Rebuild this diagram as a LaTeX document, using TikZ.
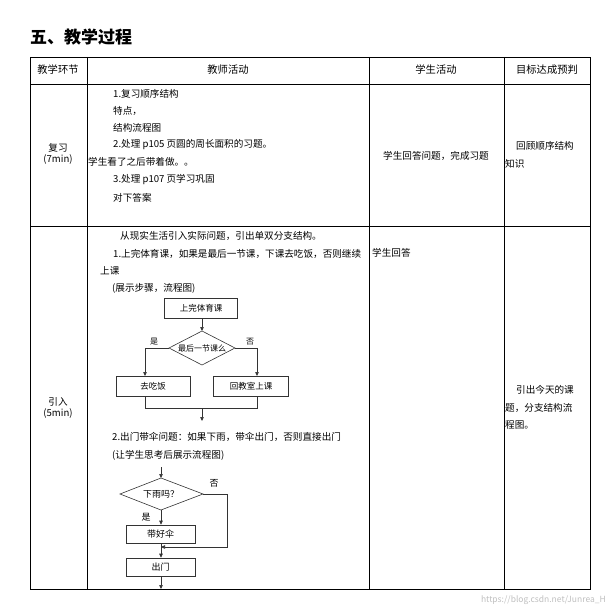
\documentclass[tikz,border=0pt]{standalone}
\usepackage{fontspec}
\setmainfont{Noto Sans CJK SC}
\usetikzlibrary{arrows.meta}
\begin{document}
\begin{tikzpicture}[x=1pt,y=-1pt,
  t/.style={anchor=west,inner sep=0,font=\fontsize{9.6}{11}\selectfont},
  c/.style={inner sep=0,font=\fontsize{9.6}{11}\selectfont},
  hd/.style={inner sep=0,font=\fontsize{10.3}{12}\selectfont},
  grid/.style={line width=0.9pt},
  fbox/.style={draw=black!80,line width=0.6pt,inner sep=0,font=\fontsize{8.5}{10}\selectfont},
  fl/.style={draw=black!80,line width=0.6pt},
  ar/.style={fl,-{Triangle[length=4pt,width=3.5pt]}}]
\useasboundingbox (0,0) rectangle (611,615);
\node[anchor=west,inner sep=0,font=\bfseries\fontsize{17}{20}\selectfont] (title) at (30,37) {五、教学过程};
% grid
\draw[grid] (30,57) rectangle (590,589);
\draw[grid] (87,57) -- (87,589) (369,57) -- (369,589) (504,57) -- (504,589);
\draw[grid] (30,84) -- (590,84) (30,226) -- (590,226);
% header
\node[hd] (h1) at (58,70) {教学环节};
\node[hd] (h2) at (228,70) {教师活动};
\node[hd] (h3) at (436,70) {学生活动};
\node[hd] (h4) at (547,70) {目标达成预判};
% row 1
\node[c,align=center] (r1a) at (58,154) {复习\\(7min)};
\node[t] (a1) at (113,94) {1.复习顺序结构};
\node[t] (a2) at (113,111) {特点，};
\node[t] (a3) at (113,128) {结构流程图};
\node[t] (a4) at (113,145) {2.处理 p105 页圆的周长面积的习题。};
\node[t] (a5) at (88,162) {学生看了之后带着做。。};
\node[t] (a6) at (113,180) {3.处理 p107 页学习巩固};
\node[t] (a7) at (113,198) {对下答案};
\node[c] (s1) at (436,156) {学生回答问题，完成习题};
\node[t] (g1) at (516,146) {回顾顺序结构};
\node[t] (g2) at (505,164) {知识};
% row 2
\node[c,align=center] (r2a) at (58,408) {引入\\(5min)};
\node[t] (b1) at (120,236) {从现实生活引入实际问题，引出单双分支结构。};
\node[t] (b2) at (113,254) {1.上完体育课，如果是最后一节课，下课去吃饭，否则继续};
\node[t] (b3) at (100,271) {上课};
\node[t] (b4) at (112,288) {(展示步骤，流程图)};
\node[t] (s2) at (372,253) {学生回答};
\node[t] (g3) at (516,390) {引出今天的课};
\node[t] (g4) at (505,408) {题，分支结构流};
\node[t] (g5) at (505,425) {程图。};
% flowchart 1
\node[fbox,minimum width=73pt,minimum height=20pt] (p1) at (201,308) {上完体育课};
\draw[fl] (202,331) -- (235,348) -- (202,365) -- (169,348) -- cycle;
\coordinate (d1t) at (202,331); \coordinate (d1l) at (169,348); \coordinate (d1r) at (235,348); \coordinate (d1b) at (202,365);
\node[c,font=\fontsize{8}{9}\selectfont] (d1) at (202,348) {最后一节课么};
\node[fbox,minimum width=74pt,minimum height=20pt] (p2) at (153,386) {去吃饭};
\node[fbox,minimum width=75pt,minimum height=20pt] (p3) at (251,386) {回教室上课};
\node[c,font=\fontsize{8}{9}\selectfont] (y1) at (154,342) {是};
\node[c,font=\fontsize{8}{9}\selectfont] (n1) at (250,342) {否};
\draw[ar] (p1.south -| d1t) -- (d1t);
\coordinate (l1) at (145,348); \coordinate (l2) at (257,348);
\draw[ar] (d1l) -- (l1) -- (145,376);
\draw[ar] (d1r) -- (l2) -- (257,376);
\coordinate (m1) at (145,408); \coordinate (m2) at (257,408); \coordinate (mm) at (202,408); \coordinate (e1) at (202,421);
\draw[fl] (145,396) -- (m1) -- (m2) -- (257,396);
\draw[ar] (mm) -- (e1);
% second problem
\node[t] (b5) at (112,437) {2.出门带伞问题：如果下雨，带伞出门，否则直接出门};
\node[t] (b6) at (112,455) {(让学生思考后展示流程图)};
% flowchart 2
\coordinate (st) at (161,467);
\coordinate (d2t) at (161,478); \coordinate (d2r) at (203,494); \coordinate (d2b) at (161,510);
\draw[fl] (161,478) -- (203,494) -- (161,510) -- (120,494) -- cycle;
\node[c,font=\fontsize{9}{10}\selectfont] (d2) at (161,494) {下雨吗？};
\draw[ar] (st) -- (d2t);
\node[fbox,font=\fontsize{9}{10}\selectfont,minimum width=69pt,minimum height=18pt] (q1) at (160.5,534) {带好伞};
\node[fbox,font=\fontsize{9}{10}\selectfont,minimum width=69pt,minimum height=18pt] (q2) at (160.5,567) {出门};
\draw[ar] (d2b) -- (q1.north -| d2b);
\node[c,font=\fontsize{9}{10}\selectfont] (y2) at (146,517) {是};
\node[c,font=\fontsize{9}{10}\selectfont] (n2) at (214,483) {否};
\coordinate (k1) at (227,494); \coordinate (k2) at (227,547); \coordinate (k3) at (161,547);
\draw[ar] (d2r) -- (k1) -- (k2) -- (k3);
\draw[ar] (q1.south -| k3) -- (q2.north -| k3);
\coordinate (e2) at (161,589);
\draw[ar] (q2.south -| e2) -- (e2);
% watermark
\node[anchor=east,inner sep=0,text=black!25,font=\fontsize{8.5}{10}\selectfont] (wm) at (606,600) {https://blog.csdn.net/Junrea\_H};
\end{tikzpicture}
\end{document}
